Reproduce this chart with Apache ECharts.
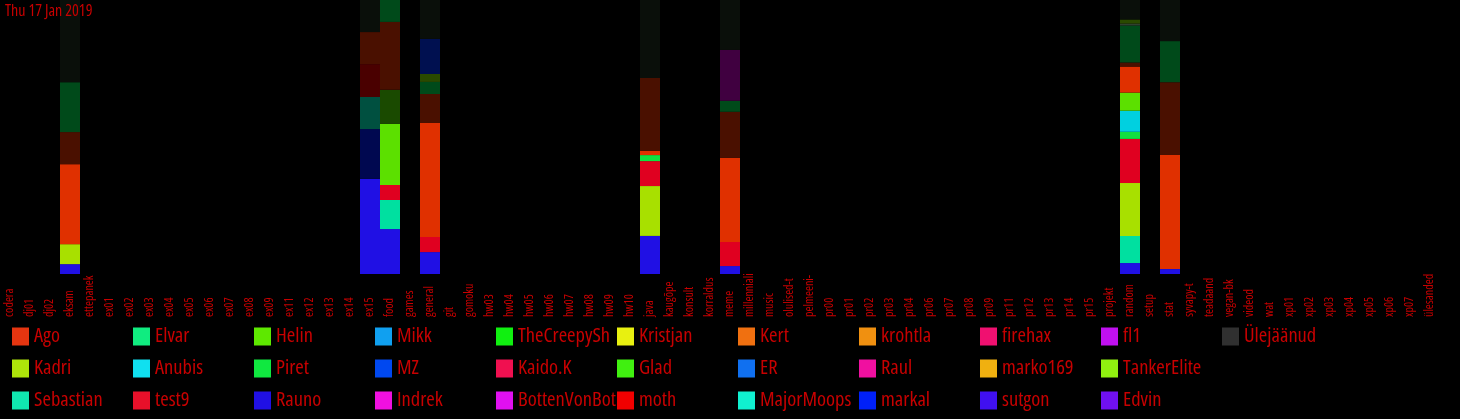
<!DOCTYPE html>
<html>
<head>
<meta charset="utf-8">
<script src="https://cdn.jsdelivr.net/npm/echarts@6/dist/echarts.min.js"></script>
<style>
html,body{margin:0;padding:0;background:#000;}
#chart{width:1460px;height:419px;}
</style>
</head>
<body>
<div id="chart"></div>
<script>
const titleText = 'Thu 17 Jan 2019';

const channels = ['codera','dj01','dj02','eksam','ettepanek','ex01','ex02','ex03','ex04','ex05','ex06','ex07','ex08','ex09','ex11','ex12','ex13','ex14','ex15','food','games','general','git','gomoku','hw03','hw04','hw05','hw06','hw07','hw08','hw09','hw10','java','kaugõpe','konsult','korraldus','meme','millenniali','music','olulised-t','pelmeeni-','pr00','pr01','pr02','pr03','pr04','pr06','pr07','pr08','pr09','pr11','pr12','pr13','pr14','pr15','projekt','random','setup','stat','syvapy-t','teadaand','vegan-bk','videod','wat','xp01','xp02','xp03','xp04','xp05','xp06','xp07','ülesanded'];

// channels that have a bar, in the order used by the value arrays below
const activeChannels = ['eksam','ex15','food','general','java','meme','random','stat'];

// legend users (column-major order, as shown)
const users = ['Ago','Kadri','Sebastian','Elvar','Anubis','test9','Helin','Piret','Rauno','Mikk','MZ','Indrek','TheCreepySh','Kaido.K','BottenVonBot','Kristjan','Glad','moth','Kert','ER','MajorMoopsy','krohtla','Raul','markal','firehax','marko169','sutgon','fl1','TankerElite','Edvin','Ülejäänud'];

// share of each bar (%), per active channel
const rauno        = [3.6, 34.7, 16.4, 8.0, 13.9, 2.9, 4.0, 1.8];
const sebastian    = [0, 0, 10.6, 0, 0, 0, 9.9, 0];
const kadri        = [7.3, 0, 0, 0, 18.2, 0, 19.3, 0];
const test9        = [0, 0, 5.5, 5.5, 9.1, 8.8, 16.1, 0];
const piret        = [0, 0, 0, 0, 2.2, 0, 2.6, 0];
const anubis       = [0, 0, 0, 0, 0, 0, 7.7, 0];
const helin        = [0, 0, 22.3, 0, 0, 0, 6.6, 0];
const ago          = [29.2, 0, 0, 41.6, 1.5, 30.7, 9.5, 41.6];
const raunoDark    = [0, 18.2, 0, 0, 0, 0, 0, 0];
const sebastianDark= [0, 11.7, 0, 0, 0, 0, 0, 0];
const mothDark     = [0, 12.0, 0, 0, 0, 0, 0, 0];
const helinDark    = [0, 0, 12.4, 0, 0, 0, 0, 0];
const agoDark      = [11.7, 11.7, 24.8, 10.6, 26.6, 16.8, 1.5, 26.6];
const elvarDark    = [18.2, 0, 8.0, 4.4, 0, 4.0, 13.5, 15.0];
const greyDark     = [0, 0, 0, 0, 0, 0, 0.7, 0];
const kadriDark    = [0, 0, 0, 2.9, 0, 0, 1.5, 0];
const mzDark       = [0, 0, 0, 12.8, 0, 0, 0, 0];
const indrekDark   = [0, 0, 0, 0, 0, 18.6, 0, 0];
const othersDark   = [30.0, 11.7, 0, 14.2, 28.5, 18.2, 7.1, 15.0];

const userColors = {
  'Ago':'#e53510','Kadri':'#aee40a','Sebastian':'#10e8b0','Elvar':'#10ec80','Anubis':'#10e0f0','test9':'#e8102a',
  'Helin':'#5ee800','Piret':'#10e840','Rauno':'#2010e4','Mikk':'#10a0f0','MZ':'#0048f0','Indrek':'#f010e0',
  'TheCreepySh':'#10f010','Kaido.K':'#f01050','BottenVonBot':'#e010f0','Kristjan':'#e8f010','Glad':'#40f010','moth':'#f00000',
  'Kert':'#f07010','ER':'#1070f0','MajorMoopsy':'#10f0d0','krohtla':'#f09010','Raul':'#f010a0','markal':'#0020f8',
  'firehax':'#f01070','marko169':'#f0b010','sutgon':'#4010f0','fl1':'#c010f0','TankerElite':'#90f010','Edvin':'#7010f0','Ülejäänud':'#303030'
};

function full(arr){
  return channels.map(c => { const i = activeChannels.indexOf(c); return i >= 0 ? arr[i] : 0; });
}

const stackDefs = [
  ['Rauno', rauno, userColors['Rauno']],
  ['Sebastian', sebastian, '#00e0a0'],
  ['Kadri', kadri, '#a8e000'],
  ['test9', test9, '#e00020'],
  ['Piret', piret, '#10e040'],
  ['Anubis', anubis, '#00d0e0'],
  ['Helin', helin, '#5ce000'],
  ['Ago', ago, '#e03000'],
  ['Rauno ·', raunoDark, '#000850'],
  ['Sebastian ·', sebastianDark, '#005040'],
  ['moth ·', mothDark, '#4a0000'],
  ['Helin ·', helinDark, '#1a4a00'],
  ['Ago ·', agoDark, '#4a1000'],
  ['Elvar ·', elvarDark, '#004a1a'],
  ['Ülejäänud ··', greyDark, '#304030'],
  ['Kadri ·', kadriDark, '#2a4a00'],
  ['MZ ·', mzDark, '#001050'],
  ['Indrek ·', indrekDark, '#400040'],
  ['Ülejäänud ·', othersDark, '#0a0f0a']
];

const FONT = "'Open Sans','Roboto',sans-serif";
const STRETCH = 'condensed';
const RED = '#c80000';

const series = [];
stackDefs.forEach(d => {
  series.push({
    name: d[0], type: 'bar', stack: 'all', barCategoryGap: '0%',
    data: full(d[1]), itemStyle: { color: d[2] }
  });
});
// users not drawn in any bar still get an (empty) series so the legend lists them
users.forEach(u => {
  if (!stackDefs.some(d => d[0] === u)) {
    series.push({ name: u, type: 'bar', stack: 'all', barCategoryGap: '0%', data: full([0,0,0,0,0,0,0,0]), itemStyle: { color: userColors[u] } });
  }
});

const legends = [];
for (let c = 0; c < Math.ceil(users.length / 3); c++) {
  const names = users.slice(c * 3, c * 3 + 3);
  legends.push({
    orient: 'vertical', left: 12 + 121 * c, top: 326,
    itemWidth: 17, itemHeight: 18, itemGap: 11, icon: 'rect', padding: 0,
    selectedMode: false,
    data: names.map(n => ({ name: n, itemStyle: { color: userColors[n] } })),
    textStyle: { color: RED, fontSize: 20.5, fontFamily: FONT, fontStyle: STRETCH, width: 99, overflow: 'truncate', ellipsis: '' }
  });
}

const chart = echarts.init(document.getElementById('chart'), null, { renderer: 'canvas' });
chart.setOption({
  backgroundColor: '#000',
  animation: false,
  title: { text: titleText, left: 5, top: 3, padding: 0, textStyle: { color: RED, fontSize: 16, fontWeight: 'normal', fontStyle: STRETCH, fontFamily: FONT } },
  legend: legends,
  grid: { left: 0, right: 20, top: 0, bottom: 145, containLabel: false },
  xAxis: {
    type: 'category', data: channels,
    axisLine: { show: false }, axisTick: { show: false },
    axisLabel: { interval: 0, rotate: 90, align: 'left', color: RED, fontSize: 12, fontFamily: FONT, fontStyle: STRETCH, margin: 43 }
  },
  yAxis: { type: 'value', min: 0, max: 100, show: false, splitLine: { show: false } },
  series: series
});
</script>
</body>
</html>
